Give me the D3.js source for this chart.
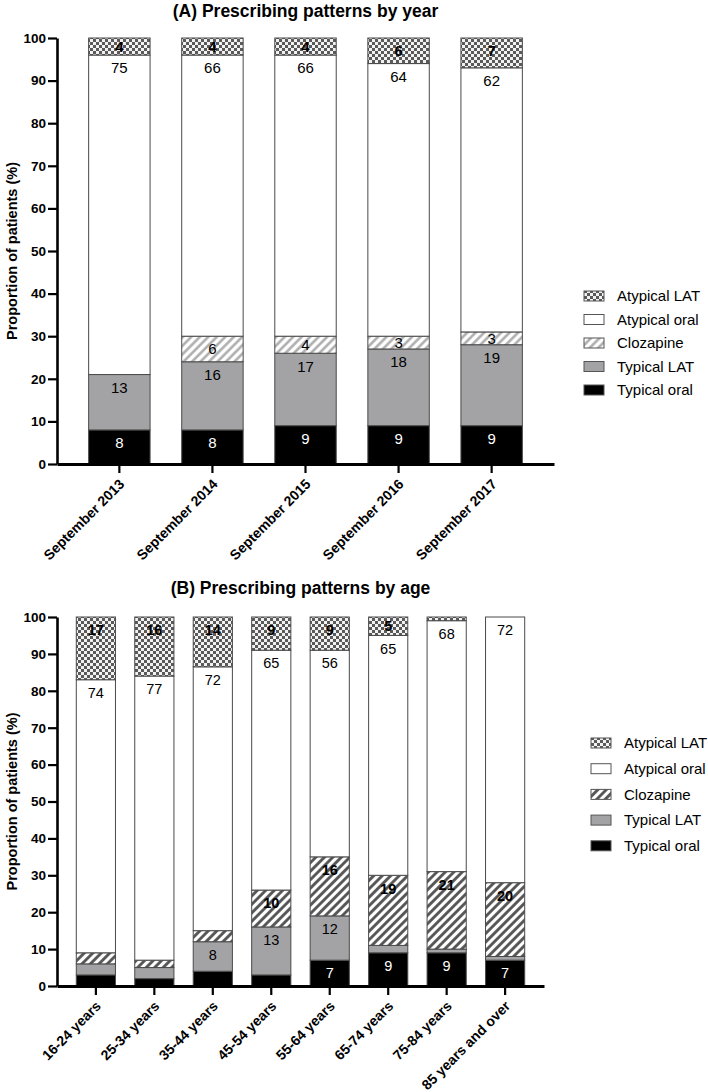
<html>
  <head>
    <style>
      body { margin: 0; background: #fff; }
      text { font-family: "Liberation Sans", Arial, sans-serif; }
    </style>
  </head>
  <body>
    <div id="chart"></div>
    <script src="https://d3js.org/d3.v7.min.js"></script>
    <script>
      // drug groups, bottom of the stack first
      var typeNames = ["Typical oral", "Typical LAT", "Clozapine", "Atypical oral", "Atypical LAT"];

      // (A) by year
      var years = ["September 2013", "September 2014", "September 2015", "September 2016", "September 2017"];
      var yearTypicalOral = [8, 8, 9, 9, 9];
      var yearTypicalLAT = [13, 16, 17, 18, 19];
      var yearClozapine = [0, 6, 4, 3, 3];
      var yearAtypicalOral = [75, 66, 66, 64, 62];
      var yearAtypicalLAT = [4, 4, 4, 6, 7];

      // (B) by age
      var ages = ["16-24 years", "25-34 years", "35-44 years", "45-54 years", "55-64 years", "65-74 years", "75-84 years", "85 years and over"];
      var ageTypicalOral = [3, 2, 4, 3, 7, 9, 9, 7];
      var ageTypicalLAT = [3, 3, 8, 13, 12, 2, 1, 1];
      var ageClozapine = [3, 2, 3, 10, 16, 19, 21, 20];
      var ageAtypicalOral = [74, 77, 71.5, 65, 56, 65, 68, 72];
      var ageAtypicalLAT = [17, 16, 13.5, 9, 9, 5, 1, 0];

      var yTicks = [0, 10, 20, 30, 40, 50, 60, 70, 80, 90, 100];

      var svg = d3.select("#chart").append("svg")
          .attr("width", 708).attr("height", 1092);

      var defs = svg.append("defs");

      var checker = defs.append("pattern").attr("id", "checker")
          .attr("patternUnits", "userSpaceOnUse").attr("width", 6).attr("height", 6);
      checker.append("rect").attr("width", 6).attr("height", 6).attr("fill", "#f2f2f2");
      checker.append("rect").attr("width", 3).attr("height", 3).attr("fill", "#5a5a5a");
      checker.append("rect").attr("x", 3).attr("y", 3).attr("width", 3).attr("height", 3).attr("fill", "#5a5a5a");

      function hatch(id, color, w) {
        var p = defs.append("pattern").attr("id", id)
            .attr("patternUnits", "userSpaceOnUse").attr("width", 6).attr("height", 6)
            .attr("patternTransform", "rotate(45)");
        p.append("rect").attr("width", 6).attr("height", 6).attr("fill", "#fff");
        p.append("line").attr("x1", 1.5).attr("y1", 0).attr("x2", 1.5).attr("y2", 6)
            .attr("stroke", color).attr("stroke-width", w);
      }
      hatch("hatchLight", "#a8a8a8", 2.4);
      hatch("hatchDark", "#505050", 2.8);

      function drawPanel(o) {
        var g = svg.append("g");

        var rows = o.cats.map(function(c, i) {
          var r = { cat: c };
          typeNames.forEach(function(k, j) { r[k] = o.series[j][i]; });
          return r;
        });
        var stacked = d3.stack().keys(typeNames)(rows);

        var x = d3.scaleBand().domain(o.cats).range(o.xRange).padding(o.padding);
        var y = d3.scaleLinear().domain([0, 100]).range(o.yRange);

        var fills = ["#000", "#a3a3a6", "url(#" + o.hatch + ")", "#fff", "url(#checker)"];
        var colors = ["#fff", "#000", "#000", "#000", "#000"];

        g.append("text")
            .attr("x", (o.xRange[0] + o.xRange[1]) / 2)
            .attr("y", o.titleY)
            .attr("text-anchor", "middle")
            .attr("font-size", 17.5).attr("font-weight", "bold")
            .text(o.title);

        var layers = g.selectAll("g.layer").data(stacked).enter().append("g")
            .attr("class", "layer");

        layers.selectAll("rect")
            .data(function(d) { return d.map(function(p) { p.key = d.key; p.idx = d.index; return p; }); })
            .enter().filter(function(d) { return d[1] - d[0] > 0; })
            .append("rect")
            .attr("x", function(d) { return x(d.data.cat); })
            .attr("width", x.bandwidth())
            .attr("y", function(d) { return y(d[1]); })
            .attr("height", function(d) { return y(d[0]) - y(d[1]); })
            .attr("fill", function(d) { return fills[d.idx]; })
            .attr("stroke", "#4a4a4a").attr("stroke-width", 1);

        layers.selectAll("text")
            .data(function(d) { return d; })
            .enter().filter(function(d) { return d[1] - d[0] >= o.minLabel; })
            .append("text")
            .attr("x", function(d) { return x(d.data.cat) + x.bandwidth() / 2; })
            .attr("y", function(d) {
              var h = y(d[0]) - y(d[1]);
              return y(d[1]) + Math.min(13, h / 2);
            })
            .attr("dy", "0.36em")
            .attr("text-anchor", "middle")
            .attr("font-size", o.labelSize)
            .attr("font-weight", function(d) { return o.weights[d.idx]; })
            .attr("fill", function(d) { return colors[d.idx]; })
            .text(function(d) { return Math.round(d[1] - d[0]); });

        // y axis
        var ya = g.append("g").attr("transform", "translate(" + o.xRange[0] + ",0)")
            .call(d3.axisLeft(y).tickValues(yTicks).tickSize(9).tickSizeOuter(0).tickPadding(2));
        ya.select(".domain").attr("stroke", "#000").attr("stroke-width", 2.6);
        ya.selectAll(".tick line").attr("stroke", "#000").attr("stroke-width", 2.2);
        ya.selectAll(".tick text").attr("font-size", 13.5).attr("font-weight", "bold")
            .attr("font-family", "Liberation Sans, Arial, sans-serif").attr("fill", "#000");

        g.append("text")
            .attr("transform", "translate(12," + ((o.yRange[0] + o.yRange[1]) / 2) + ") rotate(-90)")
            .attr("text-anchor", "middle")
            .attr("dy", "0.35em")
            .attr("font-size", 14.5).attr("font-weight", "bold")
            .text("Proportion of patients (%)");

        // x axis
        var xa = g.append("g").attr("transform", "translate(0," + o.yRange[0] + ")")
            .call(d3.axisBottom(x).tickSize(9).tickSizeOuter(0));
        xa.select(".domain").attr("stroke", "#000").attr("stroke-width", 2.8);
        xa.selectAll(".tick line").attr("stroke", "#000").attr("stroke-width", 2.2);
        xa.selectAll(".tick text")
            .attr("font-size", 14).attr("font-weight", "bold")
            .attr("font-family", "Liberation Sans, Arial, sans-serif").attr("fill", "#000")
            .attr("text-anchor", "end")
            .attr("y", 0).attr("dy", 0)
            .attr("transform", "translate(6,21) rotate(-45)");

        // legend, top entry is the last stacked group
        var leg = g.selectAll("g.leg").data(typeNames.slice().reverse()).enter().append("g")
            .attr("transform", function(d, i) { return "translate(" + o.legendX + "," + (o.legendY0 + i * o.legendStep) + ")"; });
        leg.append("rect")
            .attr("x", 0).attr("y", -5).attr("width", 20).attr("height", 10)
            .attr("fill", function(d) { return fills[typeNames.indexOf(d)]; })
            .attr("stroke", "#555").attr("stroke-width", 1);
        leg.append("text")
            .attr("x", 33).attr("dy", "0.35em")
            .attr("font-size", 15)
            .text(function(d) { return d; });
      }

      drawPanel({
        title: "(A) Prescribing patterns by year",
        titleY: 17,
        cats: years,
        series: [yearTypicalOral, yearTypicalLAT, yearClozapine, yearAtypicalOral, yearAtypicalLAT],
        xRange: [57, 554], yRange: [464, 38], padding: 0.34,
        hatch: "hatchLight", labelSize: 15, minLabel: 3,
        weights: ["normal", "normal", "normal", "normal", "bold"],
        legendX: 584, legendY0: 296, legendStep: 23.5
      });

      drawPanel({
        title: "(B) Prescribing patterns by age",
        titleY: 594,
        cats: ages,
        series: [ageTypicalOral, ageTypicalLAT, ageClozapine, ageAtypicalOral, ageAtypicalLAT],
        xRange: [57, 544], yRange: [986, 617], padding: 0.33,
        hatch: "hatchDark", labelSize: 14.5, minLabel: 5,
        weights: ["normal", "normal", "bold", "normal", "bold"],
        legendX: 591, legendY0: 743, legendStep: 25.7
      });
    </script>
  </body>
</html>
